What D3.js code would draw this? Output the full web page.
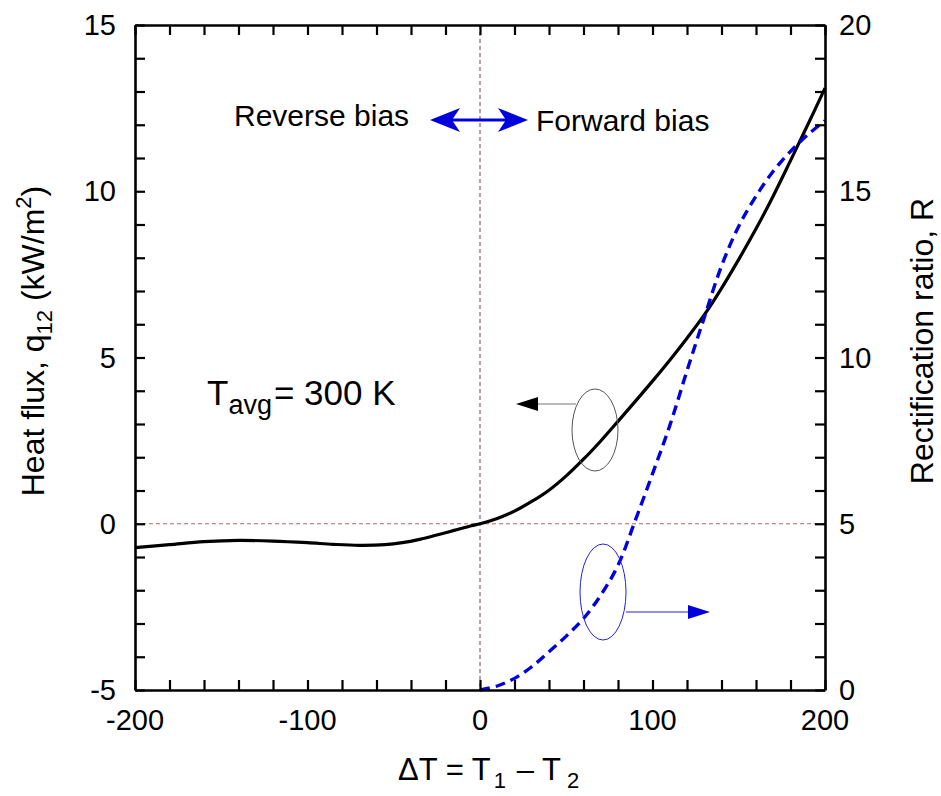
<!DOCTYPE html>
<html><head><meta charset="utf-8">
<script src="https://cdn.jsdelivr.net/npm/d3@7"></script>
<style>body{margin:0;background:#fff}svg{font-family:"Liberation Sans",Arial,sans-serif}</style>
</head><body>
<svg id="c" width="941" height="796"></svg>
<script>
const xTicks = [-200, -100, 0, 100, 200];
const yLeftTicks = [-5, 0, 5, 10, 15];
const yRightTicks = [0, 5, 10, 15, 20];
const fluxDT = [-200, -180, -160, -140, -120, -100, -85, -70, -55, -45, -35, -25, -15, -5, 0, 10, 20, 30, 40, 50, 60, 70, 80, 90, 100, 110, 120, 130, 140, 150, 160, 170, 180, 190, 200];
const fluxQ  = [-0.72, -0.63, -0.54, -0.50, -0.52, -0.57, -0.62, -0.65, -0.63, -0.57, -0.47, -0.34, -0.20, -0.06, 0, 0.16, 0.38, 0.67, 1.01, 1.44, 1.94, 2.49, 3.08, 3.68, 4.29, 4.92, 5.58, 6.28, 7.08, 7.95, 8.87, 9.86, 10.92, 12.0, 13.1];
const ratioDT = [0, 10, 20, 30, 40, 50, 60, 70, 80, 90, 100, 110, 120, 130, 140, 150, 160, 170, 180, 190, 200];
const ratioR  = [0, 0.12, 0.35, 0.70, 1.15, 1.62, 2.15, 2.85, 3.75, 5.10, 6.50, 7.95, 9.60, 11.20, 12.75, 13.95, 14.85, 15.6, 16.2, 16.7, 17.12];

const svg = d3.select("#c");
const L = 135, R = 825, T = 25, B = 690;
const x = d3.scaleLinear().domain([-200, 200]).range([L, R]);
const yl = d3.scaleLinear().domain([-5, 15]).range([B, T]);
const yr = d3.scaleLinear().domain([0, 20]).range([B, T]);
const fs = 29;

// reference dashed lines
svg.append("line").attr("x1", x(0)).attr("x2", x(0)).attr("y1", T).attr("y2", B)
  .attr("stroke", "#5a2020").attr("stroke-width", 1).attr("stroke-dasharray", "4,3").attr("opacity", 0.85);
svg.append("line").attr("x1", L).attr("x2", R).attr("y1", yl(0)).attr("y2", yl(0))
  .attr("stroke", "#b04848").attr("stroke-width", 1).attr("stroke-dasharray", "4,3").attr("opacity", 0.85);

// curves
const lf = d3.line().x((d, i) => x(fluxDT[i])).y((d) => yl(d)).curve(d3.curveCatmullRom.alpha(0.5));
svg.append("path").attr("d", lf(fluxQ)).attr("fill", "none").attr("stroke", "#000").attr("stroke-width", 3.2);
const lr = d3.line().x((d, i) => x(ratioDT[i])).y((d) => yr(d)).curve(d3.curveCatmullRom.alpha(0.5));
svg.append("path").attr("d", lr(ratioR)).attr("fill", "none").attr("stroke", "#0000dd").attr("stroke-width", 3.4).attr("stroke-dasharray", "10,6");

// axes (inward ticks)
const gx = svg.append("g").attr("transform", `translate(0,${B})`)
  .call(d3.axisBottom(x).tickValues(d3.range(-200, 201, 20)).tickSize(-10).tickFormat("").tickSizeOuter(0));
const gxt = svg.append("g").attr("transform", `translate(0,${T})`)
  .call(d3.axisTop(x).tickValues(d3.range(-200, 201, 20)).tickSize(-10).tickFormat("").tickSizeOuter(0));
const gyl = svg.append("g").attr("transform", `translate(${L},0)`)
  .call(d3.axisLeft(yl).tickValues(d3.range(-5, 15.01, 1)).tickSize(-10).tickFormat("").tickSizeOuter(0));
const gyr = svg.append("g").attr("transform", `translate(${R},0)`)
  .call(d3.axisRight(yr).tickValues(d3.range(0, 20.01, 1)).tickSize(-10).tickFormat("").tickSizeOuter(0));
[gx, gxt, gyl, gyr].forEach(g => {
  g.selectAll(".domain").attr("stroke", "#000").attr("stroke-width", 2.6);
  g.selectAll(".tick line").attr("stroke", "#000").attr("stroke-width", 2.2);
});
// tick labels
svg.append("g").selectAll("text").data(xTicks).join("text")
  .attr("x", d => x(d)).attr("y", 730).attr("text-anchor", "middle").attr("font-size", fs).text(d => d);
svg.append("g").selectAll("text").data(yLeftTicks).join("text")
  .attr("x", 116).attr("y", d => yl(d) + 10).attr("text-anchor", "end").attr("font-size", fs).text(d => d);
svg.append("g").selectAll("text").data(yRightTicks).join("text")
  .attr("x", 839).attr("y", d => yr(d) + 10).attr("text-anchor", "start").attr("font-size", fs).text(d => d);

// axis titles
const xt = svg.append("text").attr("x", 398).attr("y", 780).attr("text-anchor", "start").attr("font-size", 31);
xt.append("tspan").text("\u0394T = T");
xt.append("tspan").attr("font-size", 22).attr("dy", 8).attr("dx", 3).text("1");
xt.append("tspan").attr("dy", -8).attr("dx", 2).text(" \u2013 T");
xt.append("tspan").attr("font-size", 22).attr("dy", 8).attr("dx", 6).text("2");

const ylt = svg.append("text").attr("transform", "translate(44,341) rotate(-90)").attr("text-anchor", "middle").attr("font-size", 32);
ylt.append("tspan").text("Heat flux, q");
ylt.append("tspan").attr("font-size", 22).attr("dy", 8).text("12");
ylt.append("tspan").attr("dy", -8).text(" (kW/m");
ylt.append("tspan").attr("font-size", 22).attr("dy", -13).text("2");
ylt.append("tspan").attr("dy", 13).text(")");

svg.append("text").attr("transform", "translate(933,341) rotate(-90)").attr("text-anchor", "middle")
  .attr("font-size", 32).text("Rectification ratio, R");

// annotations
svg.append("text").attr("x", 234).attr("y", 126).attr("font-size", 30).text("Reverse bias");
svg.append("text").attr("x", 536).attr("y", 131).attr("font-size", 30).text("Forward bias");
svg.append("line").attr("x1", 445).attr("x2", 513).attr("y1", 120).attr("y2", 120).attr("stroke", "#0000dd").attr("stroke-width", 3);
svg.append("path").attr("d", "M430,120 L460,108 L452,120 L460,132 Z").attr("fill", "#0000dd");
svg.append("path").attr("d", "M528,120 L498,108 L506,120 L498,132 Z").attr("fill", "#0000dd");

const ta = svg.append("text").attr("x", 207).attr("y", 405).attr("font-size", 35);
ta.append("tspan").text("T");
ta.append("tspan").attr("font-size", 27).attr("dy", 9).text("avg");
ta.append("tspan").attr("dy", -9).attr("dx", 2).text("= 300 K");

// left pointer (flux)
svg.append("ellipse").attr("cx", 595).attr("cy", 430).attr("rx", 23).attr("ry", 41).attr("fill", "none").attr("stroke", "#555").attr("stroke-width", 1);
svg.append("line").attr("x1", 576).attr("x2", 535).attr("y1", 404).attr("y2", 404).attr("stroke", "#777").attr("stroke-width", 1.2);
svg.append("path").attr("d", "M516,404 L538,397 L538,411 Z").attr("fill", "#000");
// right pointer (ratio)
svg.append("ellipse").attr("cx", 603).attr("cy", 592).attr("rx", 23).attr("ry", 48).attr("fill", "none").attr("stroke", "#2222dd").attr("stroke-width", 1);
svg.append("line").attr("x1", 626).attr("x2", 690).attr("y1", 612).attr("y2", 612).attr("stroke", "#2222dd").attr("stroke-width", 1.2);
svg.append("path").attr("d", "M710,612 L688,605 L688,619 Z").attr("fill", "#0000dd");
</script>
</body></html>
